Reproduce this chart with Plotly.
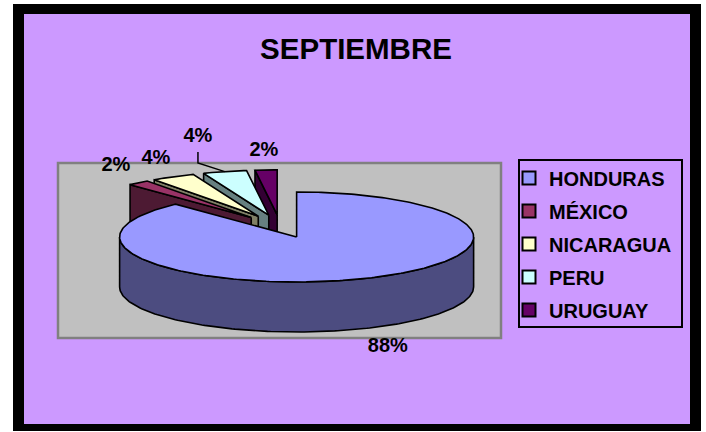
import numpy as np
import plotly.graph_objects as go

# ---- data -------------------------------------------------------------
countries = ["HONDURAS", "MÉXICO", "NICARAGUA", "PERU", "URUGUAY"]
shares = [88, 2, 4, 4, 2]                      # percent of total
pct_labels = ["88%", "2%", "4%", "4%", "2%"]

# ---- styling ------------------------------------------------------------
top_colors = ["#9999FF", "#993366", "#FFFFCC", "#CCFFFF", "#660066"]
side_colors = ["#4C4C80", "#4D1A33", "#808066", "#668080", "#330033"]
FONT = "Liberation Sans, Arial, sans-serif"

W, H = 706, 432
# projected pie geometry, in pixel units of the canvas axes
CX, CY = 280.0, 226.3     # pie centre (before explosion)
RX, RY = 177.0, 45.0      # ellipse radii of the tilted disc
DEPTH = 50.0              # thickness of the disc
EXPLODE = 0.255           # radial offset of every slice, fraction of radius
START = 90.0              # first slice starts at 12 o'clock, clockwise
LABEL_R = 1.2
# per-label nudges (dx, dy) and whether a leader line is drawn
label_nudge = [(13, 0), (0, 0), (0, 0), (-18, -16), (0, 0)]
label_leader = [False, False, False, True, False]


def arc(cx, cy, a0, a1, dy=0.0):
    n = int(abs(a1 - a0)) + 2
    t = np.radians(np.linspace(a0, a1, n))
    return cx + RX * np.cos(t), cy - RY * np.sin(t) + dy


def face(xs, ys, fill):
    return go.Scatter(
        x=list(xs) + [xs[0]], y=list(ys) + [ys[0]],
        mode="lines", fill="toself", fillcolor=fill,
        line=dict(color="black", width=1.6),
        hoverinfo="skip", showlegend=False,
    )


# slice angles
slices = []
cum = 0.0
for i, v in enumerate(shares):
    a_hi = START - cum * 3.6
    a_lo = a_hi - v * 3.6
    cum += v
    b = np.radians((a_hi + a_lo) / 2)
    cx = CX + EXPLODE * RX * np.cos(b)
    cy = CY - EXPLODE * RY * np.sin(b)
    slices.append(dict(i=i, a_hi=a_hi, a_lo=a_lo, b=b, cx=cx, cy=cy))

traces = []
# paint from the back of the disc towards the viewer
for s in sorted(slices, key=lambda d: d["cy"]):
    i, a_hi, a_lo, cx, cy = s["i"], s["a_hi"], s["a_lo"], s["cx"], s["cy"]
    # radial walls facing the viewer
    for ang, visible in ((a_hi, np.cos(np.radians(a_hi)) < -1e-6),
                         (a_lo, np.cos(np.radians(a_lo)) > 1e-6)):
        if visible:
            ox = cx + RX * np.cos(np.radians(ang))
            oy = cy - RY * np.sin(np.radians(ang))
            traces.append(face([cx, ox, ox, cx],
                               [cy, oy, oy + DEPTH, cy + DEPTH],
                               side_colors[i]))
    # curved outer wall on the front half of the disc
    for k in (-2, -1, 0, 1):
        lo = max(a_lo, 180 + 360 * k)
        hi = min(a_hi, 360 + 360 * k)
        if hi > lo:
            tx, ty = arc(cx, cy, lo, hi)
            bx, by = arc(cx, cy, hi, lo, DEPTH)
            traces.append(face(np.r_[tx, bx], np.r_[ty, by], side_colors[i]))
    # top face
    tx, ty = arc(cx, cy, a_lo, a_hi)
    traces.append(face(np.r_[cx, tx], np.r_[cy, ty], top_colors[i]))

# percentage labels
lab_x, lab_y = [], []
for s in slices:
    i, b = s["i"], s["b"]
    ax = s["cx"] + LABEL_R * RX * np.cos(b)
    ay = s["cy"] - LABEL_R * RY * np.sin(b)
    ly = ay - 10 if np.sin(b) > 0 else ay + DEPTH + 10
    lx = ax + label_nudge[i][0]
    ly = ly + label_nudge[i][1]
    lab_x.append(lx)
    lab_y.append(ly)
    if label_leader[i]:
        mx = s["cx"] + RX * np.cos(b)
        my = s["cy"] - RY * np.sin(b)
        traces.append(go.Scatter(
            x=[lx, lx, mx], y=[ly + 15, ly + 26, my], mode="lines",
            line=dict(color="black", width=1.5),
            hoverinfo="skip", showlegend=False))

traces.append(go.Scatter(
    x=lab_x, y=lab_y, mode="text", text=pct_labels,
    textfont=dict(family=FONT, size=20, color="black", weight="bold"),
    hoverinfo="skip", showlegend=False))

# legend entries
for i, name in enumerate(countries):
    traces.append(go.Scatter(
        x=[None], y=[None], mode="markers", name=name, legendgroup=name,
        marker=dict(symbol="square", size=13, color=top_colors[i],
                    line=dict(color="black", width=2))))

fig = go.Figure(traces)

shapes = [
    # outer black frame and purple chart area
    dict(type="rect", x0=13, x1=701, y0=4, y1=431,
         fillcolor="black", line=dict(width=0)),
    dict(type="rect", x0=24, x1=690, y0=14, y1=424,
         fillcolor="#CC99FF", line=dict(width=0)),
    # grey plot area
    dict(type="rect", x0=58, x1=501, y0=163, y1=338,
         fillcolor="#C0C0C0", line=dict(color="#808080", width=2.5)),
    # legend frame
    dict(type="rect", x0=519, x1=682, y0=160, y1=327,
         fillcolor="rgba(0,0,0,0)", line=dict(color="black", width=2)),
]
for sh in shapes:
    sh.update(xref="x", yref="y", layer="below")

fig.update_layout(
    width=W, height=H, autosize=False,
    margin=dict(l=0, r=0, t=0, b=0, pad=0),
    paper_bgcolor="white", plot_bgcolor="rgba(0,0,0,0)",
    shapes=shapes,
    xaxis=dict(range=[0, W], visible=False, fixedrange=True),
    yaxis=dict(range=[H, 0], visible=False, fixedrange=True),
    title=dict(text="SEPTIEMBRE", x=356 / W, y=1 - 48.5 / H,
               xanchor="center", yanchor="middle",
               font=dict(family=FONT, size=29.5, color="black", weight="bold")),
    legend=dict(x=509 / W, y=1 - 158.5 / H, xanchor="left", yanchor="top",
                bgcolor="rgba(0,0,0,0)", borderwidth=0,
                traceorder="grouped", tracegroupgap=4,
                font=dict(family=FONT, size=20, color="black", weight="bold")),
    showlegend=True,
)

fig.write_html("out.html")
